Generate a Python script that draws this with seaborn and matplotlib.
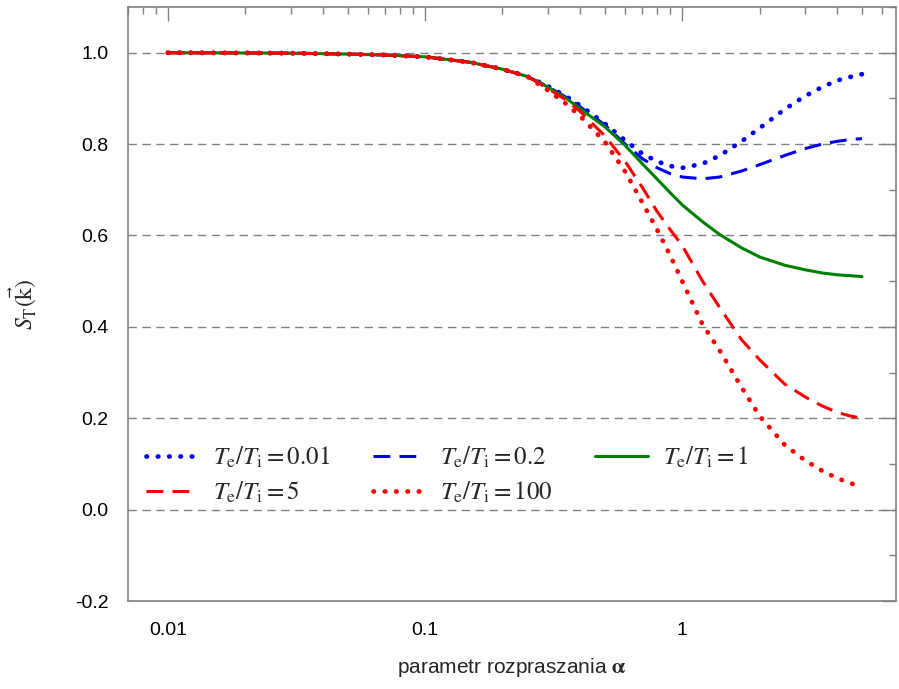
import matplotlib
matplotlib.use("Agg")
import matplotlib.pyplot as plt
import seaborn as sns
import numpy as np
import pandas as pd
from matplotlib.ticker import LogLocator, MultipleLocator, FixedLocator, NullFormatter

alpha = [0.01, 0.02, 0.03, 0.05, 0.07, 0.1, 0.15, 0.2, 0.25, 0.3, 0.35, 0.4, 0.5,
         0.6, 0.7, 0.8, 0.9, 1.0, 1.2, 1.4, 1.7, 2.0, 2.5, 3.0, 3.5, 4.0, 4.5, 5.0]

common = [1.0, 0.9995, 0.999, 0.997, 0.995, 0.991, 0.979, 0.964, 0.948]

s_001 = common + [0.927, 0.906, 0.885, 0.845, 0.808, 0.779, 0.762, 0.752, 0.748,
                  0.757, 0.775, 0.806, 0.835, 0.876, 0.905, 0.925, 0.939, 0.947, 0.953]
s_02 = common + [0.926, 0.904, 0.882, 0.842, 0.800, 0.768, 0.748, 0.735, 0.728,
                 0.724, 0.728, 0.741, 0.755, 0.775, 0.790, 0.800, 0.806, 0.810, 0.812]
s_1 = common + [0.925, 0.902, 0.878, 0.838, 0.797, 0.757, 0.723, 0.693, 0.667,
                0.630, 0.602, 0.573, 0.553, 0.535, 0.525, 0.518, 0.514, 0.512, 0.510]
s_5 = common + [0.922, 0.898, 0.872, 0.818, 0.762, 0.705, 0.652, 0.612, 0.578,
                0.500, 0.442, 0.372, 0.328, 0.275, 0.247, 0.227, 0.213, 0.205, 0.200]
s_100 = common + [0.918, 0.890, 0.862, 0.805, 0.740, 0.672, 0.612, 0.555, 0.500,
                  0.405, 0.348, 0.268, 0.205, 0.142, 0.108, 0.085, 0.069, 0.058, 0.050]

labels = [r"$T_\mathrm{e}/T_\mathrm{i} = 0.01$", r"$T_\mathrm{e}/T_\mathrm{i} = 0.2$",
          r"$T_\mathrm{e}/T_\mathrm{i} = 1$", r"$T_\mathrm{e}/T_\mathrm{i} = 5$",
          r"$T_\mathrm{e}/T_\mathrm{i} = 100$"]
series = [s_001, s_02, s_1, s_5, s_100]

sns.set_style("white")
plt.rcParams["font.family"] = ["Liberation Sans", "DejaVu Sans"]
plt.rcParams["mathtext.fontset"] = "stix"

fig = plt.figure(figsize=(8.99, 6.89), dpi=100)
ax = fig.add_axes([0.1424, 0.1277, 0.8546, 0.8621])

styles = [
    dict(color="#0000ee", linestyle=(0, (0.1, 2.3)), lw=3.4, dash_capstyle="round"),
    dict(color="#0000ee", linestyle=(0, (5.5, 3.0)), lw=2.2),
    dict(color="#008000", linestyle="-", lw=2.2),
    dict(color="#ff0000", linestyle=(0, (5.5, 3.0)), lw=2.2),
    dict(color="#ff0000", linestyle=(0, (0.1, 2.3)), lw=3.4, dash_capstyle="round"),
]

for ys, lab, st in zip(series, labels, styles):
    df = pd.DataFrame({"alpha": alpha, "S": ys})
    sns.lineplot(data=df, x="alpha", y="S", ax=ax, label=lab, zorder=3, **st)

ax.set_xscale("log")
ax.set_xlim(0.0070, 6.8)
ax.set_ylim(-0.2, 1.1)

ax.xaxis.set_major_locator(FixedLocator([0.01, 0.1, 1]))
ax.set_xticklabels(["0.01", "0.1", "1"])
ax.xaxis.set_minor_locator(LogLocator(base=10, subs=np.arange(2, 10)))
ax.xaxis.set_minor_formatter(NullFormatter())
ax.yaxis.set_major_locator(FixedLocator([-0.2, 0.0, 0.2, 0.4, 0.6, 0.8, 1.0]))
ax.set_yticklabels(["-0.2", "0.0", "0.2", "0.4", "0.6", "0.8", "1.0"])
ax.yaxis.set_minor_locator(MultipleLocator(0.1))

ax.tick_params(which="both", direction="in", top=True, right=True,
               color="#808080", width=1, labelsize=14, labelcolor="black")
ax.tick_params(which="major", length=10)
ax.tick_params(which="minor", length=5)
ax.tick_params(axis="y", which="major", pad=14)
ax.tick_params(axis="x", which="major", pad=15)

for sp in ax.spines.values():
    sp.set_color("#808080")
    sp.set_linewidth(1.2)

for yv in [0.0, 0.2, 0.4, 0.6, 0.8, 1.0]:
    ax.axhline(yv, color="#808080", lw=1.0, linestyle=(0, (6, 4)), zorder=1)

ax.set_xlabel(r"parametr rozpraszania $\mathbf{\alpha}$", fontsize=15, labelpad=12)
ax.set_ylabel(r"$S_\mathrm{T}(\vec{\mathrm{k}})$", fontsize=17, labelpad=26)

h, l = ax.get_legend_handles_labels()
order = [0, 3, 1, 4, 2]
ax.legend([h[i] for i in order], [l[i] for i in order], ncol=3,
          loc="upper left", bbox_to_anchor=(0.0, 0.293), frameon=False,
          fontsize=18, handlelength=2.1, handletextpad=0.6, columnspacing=1.7,
          labelspacing=0.39, borderaxespad=0.3)

fig.savefig("out.png", dpi=100)
